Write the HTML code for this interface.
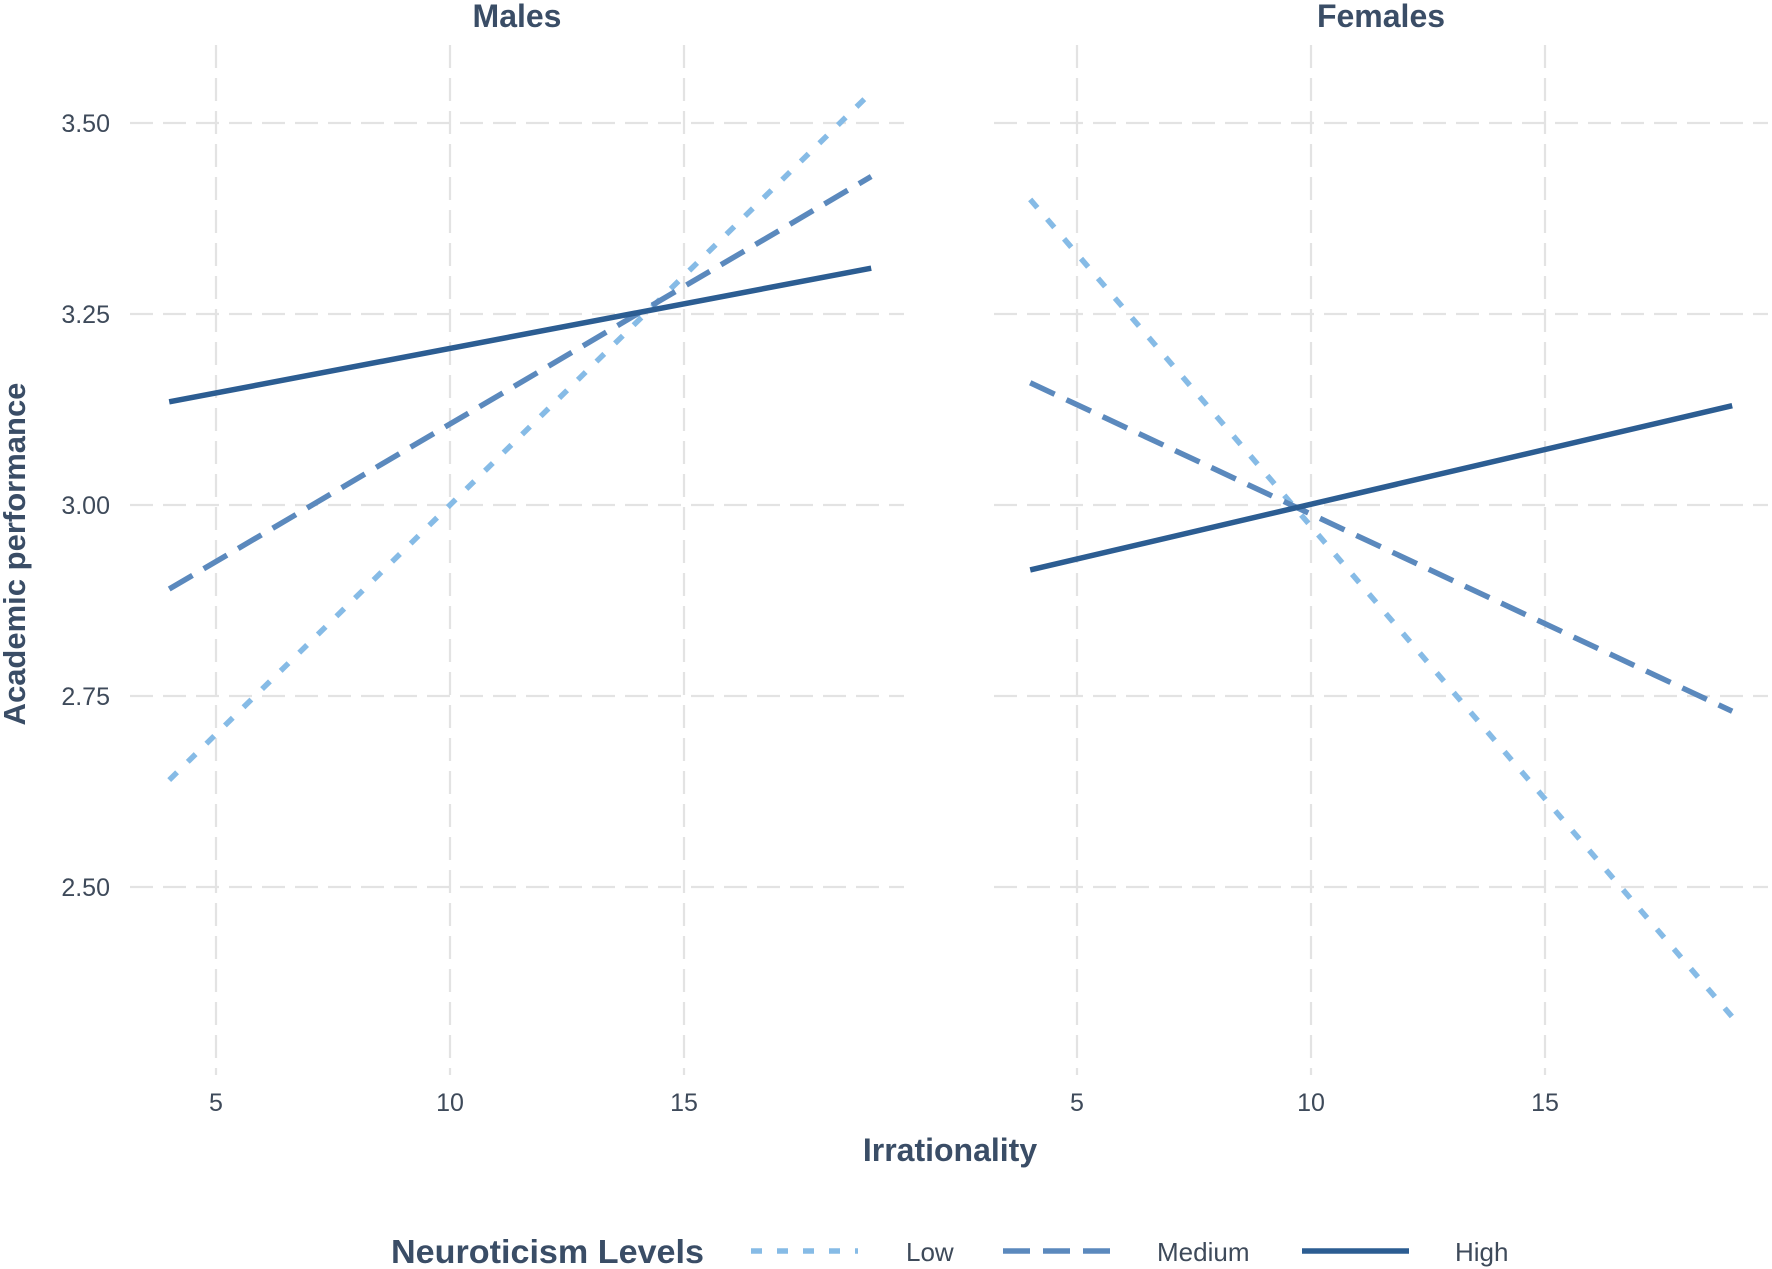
<!DOCTYPE html>
<html><head><meta charset="utf-8"><style>
body{margin:0;background:#fff}
svg{display:block;font-family:"Liberation Sans",sans-serif}
</style></head><body>
<svg width="1772" height="1269" viewBox="0 0 1772 1269" id="chart">
</svg>
<script>
const panels=["Males","Females"];
const xTicks=[5,10,15];
const yTicks=[2.50,2.75,3.00,3.25,3.50];
const levels=["Low","Medium","High"];
const xRange=[4,19];
const maleLow=[2.64,3.54];
const maleMedium=[2.89,3.43];
const maleHigh=[3.135,3.31];
const femaleLow=[3.40,2.33];
const femaleMedium=[3.16,2.73];
const femaleHigh=[2.915,3.13];

const NS="http://www.w3.org/2000/svg";
const svg=document.getElementById('chart');
function mk(t,a,p){const e=document.createElementNS(NS,t);for(const k in a)e.setAttribute(k,a[k]);(p||svg).appendChild(e);return e;}
const styles={Low:{c:"#86bbe6",d:"11 15"},Medium:{c:"#5b89bd",d:"27 13"},High:{c:"#2c5d92",d:""}};
const panelX0=[216,1077];
const xs=(p,v)=>panelX0[p]+(v-5)*46.8;
const ys=v=>505-(v-3)*764;
const panelBox=[[130,904],[994,1768]];
const seriesData=[[maleLow,maleMedium,maleHigh],[femaleLow,femaleMedium,femaleHigh]];
panels.forEach((name,p)=>{
  const g=mk('g',{});
  
  
  yTicks.forEach(v=>{
    const l=mk('line',{x1:panelBox[p][0],x2:panelBox[p][1],y1:ys(v),y2:ys(v),stroke:"#e3e3e3","stroke-width":2.2,"stroke-dasharray":"23 10"},g);
    
    
  });
  xTicks.forEach(v=>{
    const l=mk('line',{x1:xs(p,v),x2:xs(p,v),y1:45,y2:1075,stroke:"#e3e3e3","stroke-width":2.2,"stroke-dasharray":"23 10"},g);
    
    
    const t=mk('text',{x:xs(p,v),y:1111,"text-anchor":"middle","font-size":25,fill:"#3e4a5a"},g);
    t.textContent=v;
    
    
  });
  const tt=mk('text',{x:(panelBox[p][0]+panelBox[p][1])/2,y:27,"text-anchor":"middle","font-size":32,"font-weight":"bold",fill:"#3a4d66"},g);
  tt.textContent=name;
  
  
  levels.forEach((lv,i)=>{
    const d=seriesData[p][i];
    const l=mk('line',{x1:xs(p,xRange[0]),x2:xs(p,xRange[1]),y1:ys(d[0]),y2:ys(d[1]),stroke:styles[lv].c,"stroke-width":5.5,"stroke-dasharray":styles[lv].d},g);
    
    
  });
});
yTicks.forEach(v=>{
  const t=mk('text',{x:110,y:ys(v)+9,"text-anchor":"end","font-size":25,fill:"#3e4a5a"});
  t.textContent=v.toFixed(2);
  
  
});
</script>
<script>
(function(){
const svg=document.getElementById('chart');
const NS="http://www.w3.org/2000/svg";
function mk(t,a){const e=document.createElementNS(NS,t);for(const k in a)e.setAttribute(k,a[k]);svg.appendChild(e);return e;}
let t=mk('text',{x:950,y:1161,"text-anchor":"middle","font-size":32,"font-weight":"bold",fill:"#3a4d66"});
t.textContent="Irrationality";


t=mk('text',{x:0,y:0,"text-anchor":"middle","font-size":31,"font-weight":"bold",fill:"#3a4d66",transform:"translate(25,554) rotate(-90)"});
t.textContent="Academic performance";


t=mk('text',{x:391,y:1263,"font-size":33,"font-weight":"bold",fill:"#3a4d66",textLength:313,lengthAdjust:"spacingAndGlyphs"});
t.textContent="Neuroticism Levels";


const leg=[["Low","#86bbe6","11 15",751,906],["Medium","#5b89bd","27 13",1003,1157],["High","#2c5d92","",1302,1455]];
leg.forEach(e=>{
  const l=mk('line',{x1:e[3],x2:e[3]+107,y1:1251,y2:1251,stroke:e[1],"stroke-width":5.5,"stroke-dasharray":e[2]});
  
  
  const x=mk('text',{x:e[4],y:1261,"font-size":26,fill:"#3e4a5a"});
  x.textContent=e[0];
  
  
});
})();
</script>
</body></html>
